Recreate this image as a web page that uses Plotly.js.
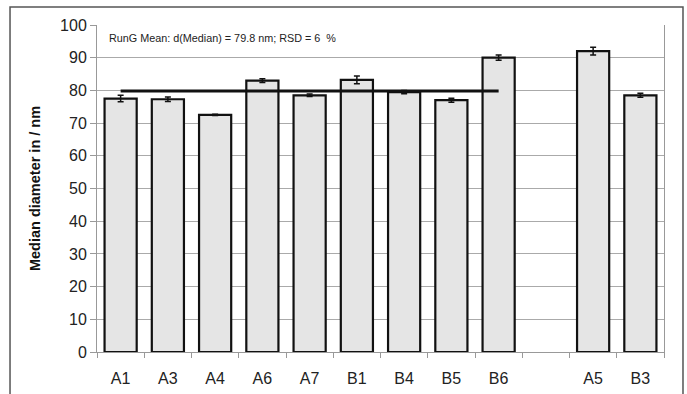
<!DOCTYPE html>
<html><head><meta charset="utf-8">
<script src="https://cdn.plot.ly/plotly-3.0.1.min.js"></script>
<style>html,body{margin:0;padding:0;background:#fff;}#chart{width:687px;height:394px;}</style>
</head><body><div id="chart"></div>
<script>
var categories = ["A1","A3","A4","A6","A7","B1","B4","B5","B6"," ","A5","B3"];
var medianValues = [77.5, 77.3, 72.5, 83.0, 78.5, 83.2, 79.5, 77.0, 90.0, null, 92.0, 78.5];
var errorValues = [1.0, 0.7, 0.2, 0.6, 0.4, 1.2, 0.5, 0.6, 0.8, null, 1.2, 0.6];
var meanX = ["A1","B6"];
var meanY = [79.8, 79.8];
var annotationText = "RunG Mean: d(Median) = 79.8 nm; RSD = 6  %";
var yTitle = "Median diameter in / nm";

var bars = {
  type: "bar", x: categories, y: medianValues, width: 0.68,
  marker: {color: "#e5e5e5", line: {color: "#111", width: 2.2}},
  error_y: {type: "data", array: errorValues, visible: true, color: "#111", thickness: 1.5, width: 3},
  hoverinfo: "skip"
};
var meanLine = {
  type: "scatter", mode: "lines", x: meanX, y: meanY,
  line: {color: "#111", width: 3}, hoverinfo: "skip"
};
var layout = {
  width: 687, height: 394,
  margin: {l: 97, r: 23, t: 25, b: 42},
  paper_bgcolor: "#fff", plot_bgcolor: "#fff",
  showlegend: false,
  font: {family: "Liberation Sans, Arial, sans-serif", color: "#222"},
  xaxis: {
    type: "category", categoryorder: "array", categoryarray: categories,
    range: [-0.5, 11.5], tickson: "boundaries", ticks: "outside", ticklen: 5,
    tickcolor: "#999", showline: true, linecolor: "#999", linewidth: 1,
    showgrid: false, tickfont: {size: 16, color: "#222"}, ticklabelstandoff: 12
  },
  yaxis: {
    range: [0, 100], dtick: 10, tickmode: "linear", tick0: 0,
    ticks: "outside", ticklen: 6, tickcolor: "#999",
    showline: true, mirror: true, linecolor: "#999", linewidth: 1,
    showgrid: true, gridcolor: "#aaa", gridwidth: 1, zeroline: false,
    tickfont: {size: 16, color: "#222"},
    title: {text: yTitle, font: {size: 14.5, color: "#111", weight: "bold"}, standoff: 16}
  },
  annotations: [{
    xref: "paper", yref: "paper", x: 0.018, y: 0.96, xanchor: "left", yanchor: "middle",
    text: annotationText, showarrow: false, font: {size: 10.8, color: "#222"}
  }],
  shapes: [{
    type: "rect", xref: "paper", yref: "paper",
    x0: -0.1534, x1: 1.0335, y0: -0.3, y1: 1.055,
    line: {color: "#555", width: 1.5}, fillcolor: "rgba(0,0,0,0)", layer: "below"
  }],
  bargap: 0.32
};
Plotly.newPlot("chart", [bars, meanLine], layout, {displayModeBar: false, staticPlot: true});
</script></body></html>
